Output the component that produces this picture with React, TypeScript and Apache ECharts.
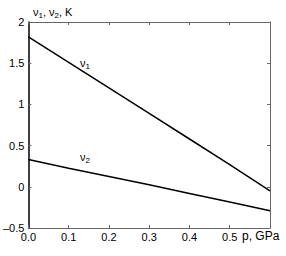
import React, { useEffect, useRef } from "react";
import * as echarts from "echarts";

const pValues = [0.0, 0.1, 0.2, 0.3, 0.4, 0.5, 0.6];
const nu1Values = [1.82, 1.51, 1.2, 0.89, 0.58, 0.27, -0.05];
const nu2Values = [0.33, 0.225, 0.125, 0.025, -0.08, -0.185, -0.29];
const xTicks = [0.0, 0.1, 0.2, 0.3, 0.4, 0.5];
const yTicks = [-0.5, 0, 0.5, 1, 1.5, 2];

const FONT = "Liberation Sans, Arial, sans-serif";

export default function App() {
  const ref = useRef<HTMLDivElement>(null);
  useEffect(() => {
    if (!ref.current) return;
    const chart = echarts.init(ref.current, undefined, { renderer: "svg" });
    const frame = "#666";
    const left = 26, right = 270, top = 22, bottom = 228;
    chart.setOption({
      animation: false,
      grid: { left, top, width: right - left, height: bottom - top, show: false },
      xAxis: [
        {
          type: "value", min: 0, max: 0.6, interval: 0.1, position: "bottom",
          axisLine: { onZero: false, lineStyle: { color: frame, width: 1 } },
          axisTick: { inside: true, length: 3, lineStyle: { color: frame } },
          splitLine: { show: false },
          axisLabel: {
            color: "#000", fontFamily: FONT, fontSize: 11, margin: 3,
            formatter: (v: number) => (xTicks.some((t) => Math.abs(t - v) < 1e-9) ? v.toFixed(1) : ""),
          },
        },
        {
          type: "value", min: 0, max: 0.6, interval: 0.1, position: "top",
          axisLine: { onZero: false, lineStyle: { color: frame, width: 1 } },
          axisTick: { inside: true, length: 3, lineStyle: { color: frame } },
          splitLine: { show: false }, axisLabel: { show: false },
        },
      ],
      yAxis: [
        {
          type: "value", min: -0.5, max: 2, interval: 0.5, position: "left",
          axisLine: { onZero: false, lineStyle: { color: "#000", width: 1.5 } },
          axisTick: { inside: true, length: 3, lineStyle: { color: frame } },
          splitLine: { show: false },
          axisLabel: {
            color: "#000", fontFamily: FONT, fontSize: 11, margin: 4,
            formatter: (v: number) =>
              yTicks.some((t) => Math.abs(t - v) < 1e-9) ? (v < 0 ? "\u2013" + String(-v) : String(v)) : "",
          },
        },
        {
          type: "value", min: -0.5, max: 2, interval: 0.5, position: "right",
          axisLine: { onZero: false, lineStyle: { color: frame, width: 1 } },
          axisTick: { inside: true, length: 3, lineStyle: { color: frame } },
          splitLine: { show: false }, axisLabel: { show: false },
        },
      ],
      series: [
        {
          type: "line", xAxisIndex: 0, yAxisIndex: 0, showSymbol: false,
          lineStyle: { color: "#000", width: 1.5 },
          data: pValues.map((p, i) => [p, nu1Values[i]]),
        },
        {
          type: "line", xAxisIndex: 0, yAxisIndex: 0, showSymbol: false,
          lineStyle: { color: "#000", width: 1.5 },
          data: pValues.map((p, i) => [p, nu2Values[i]]),
        },
      ],
      graphic: [
        {
          type: "text", left: 33, top: 6,
          style: {
            text: "ν{s|1}, ν{s|2}, K",
            fontFamily: FONT, fontSize: 11, fill: "#000",
            rich: { s: { fontSize: 8, fontFamily: FONT, padding: [7, 0, 0, 0] } },
          },
        },
        {
          type: "text", left: 80, top: 57,
          style: {
            text: "ν{s|1}", fontFamily: FONT, fontSize: 11, fill: "#000",
            rich: { s: { fontSize: 8, fontFamily: FONT, padding: [7, 0, 0, 0] } },
          },
        },
        {
          type: "text", left: 80, top: 151,
          style: {
            text: "ν{s|2}", fontFamily: FONT, fontSize: 11, fill: "#000",
            rich: { s: { fontSize: 8, fontFamily: FONT, padding: [7, 0, 0, 0] } },
          },
        },
        {
          type: "text", left: 242, top: 230,
          style: { text: "p, GPa", fontFamily: FONT, fontSize: 12, fill: "#000" },
        },
      ],
    });
    return () => chart.dispose();
  }, []);
  return (
    <div
      ref={ref}
      style={{ position: "absolute", left: 0, top: 0, width: 286, height: 256 }}
    />
  );
}
